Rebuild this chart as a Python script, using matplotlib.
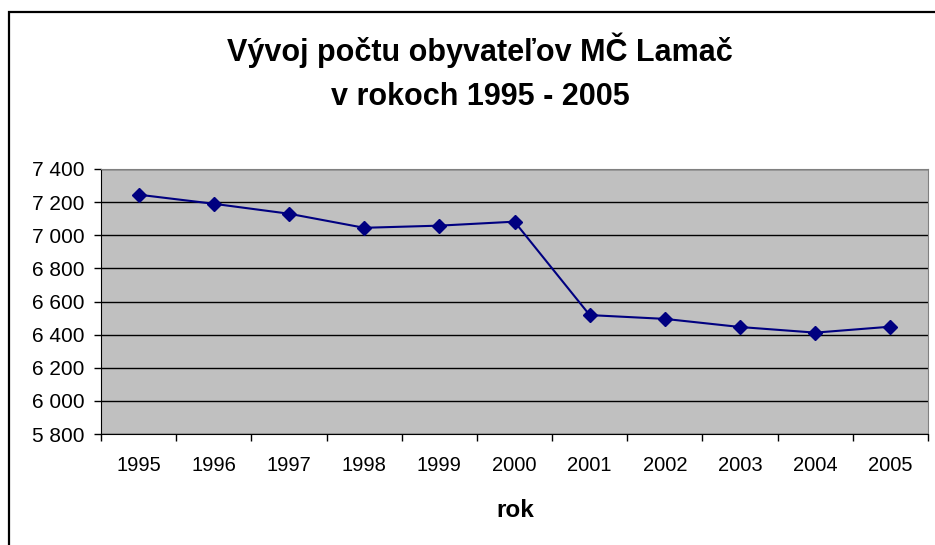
import numpy as np
import matplotlib.pyplot as plt
from matplotlib.patches import Rectangle
from matplotlib.ticker import FuncFormatter

plt.rcParams['font.family'] = ['Liberation Sans', 'DejaVu Sans']

# data
years = ['1995', '1996', '1997', '1998', '1999', '2000',
         '2001', '2002', '2003', '2004', '2005']
population = [7245, 7190, 7130, 7045, 7058, 7082,
              6518, 6495, 6446, 6412, 6448]

title_lines = ['Vývoj počtu obyvateľov MČ Lamač', 'v rokoch 1995 - 2005']
xlabel = 'rok'


def thousands(v, pos):
    return '{:,.0f}'.format(v).replace(',', ' ')


def main():
    fig = plt.figure(figsize=(9.35, 5.45), dpi=100)
    fig.patch.set_facecolor('white')

    # chart frame (cut off on right and bottom)
    frame = Rectangle((9 / 935, -0.05), 1.2, 1 - 12 / 545 + 0.05,
                      transform=fig.transFigure, fill=False,
                      edgecolor='black', linewidth=1.6)
    fig.patches.append(frame)

    ax = fig.add_axes([101 / 935, 1 - 434 / 545, 827 / 935, 265 / 545])
    ax.set_facecolor('#C0C0C0')

    x = np.arange(len(years))
    ax.plot(x, population, color='#000080', linewidth=1.5,
            marker='D', markersize=7, markerfacecolor='#000080',
            markeredgecolor='#000080', zorder=3)

    ax.set_xlim(-0.5, len(years) - 0.5)
    ax.set_ylim(5800, 7400)
    ax.set_yticks(np.arange(5800, 7401, 200))
    ax.yaxis.set_major_formatter(FuncFormatter(thousands))
    ax.grid(axis='y', color='black', linewidth=1)
    ax.set_axisbelow(True)

    # ticks between categories, labels at centres
    ax.set_xticks(np.arange(-0.5, len(years), 1))
    ax.set_xticklabels([])
    ax.set_xticks(x, minor=True)
    ax.set_xticklabels(years, minor=True)
    ax.tick_params(axis='x', which='major', direction='out', length=5,
                   color='black', width=1)
    ax.tick_params(axis='x', which='minor', length=0, pad=16, labelsize=14.5)
    ax.tick_params(axis='y', direction='out', length=5, color='black',
                   width=1, labelsize=15, pad=7)

    for side in ['top', 'right']:
        ax.spines[side].set_color('#808080')
    for side in ['left', 'bottom']:
        ax.spines[side].set_color('black')

    # title, two lines placed by baseline
    fig.text(480 / 935, 1 - 61 / 545, title_lines[0], ha='center',
             va='baseline', fontsize=22, fontweight='bold')
    fig.text(480 / 935, 1 - 105 / 545, title_lines[1], ha='center',
             va='baseline', fontsize=22, fontweight='bold')
    fig.text(515 / 935, 1 - 517 / 545, xlabel, ha='center', va='baseline',
             fontsize=17.5, fontweight='bold')

    fig.savefig('out.png', dpi=100)


if __name__ == "__main__":
    main()
